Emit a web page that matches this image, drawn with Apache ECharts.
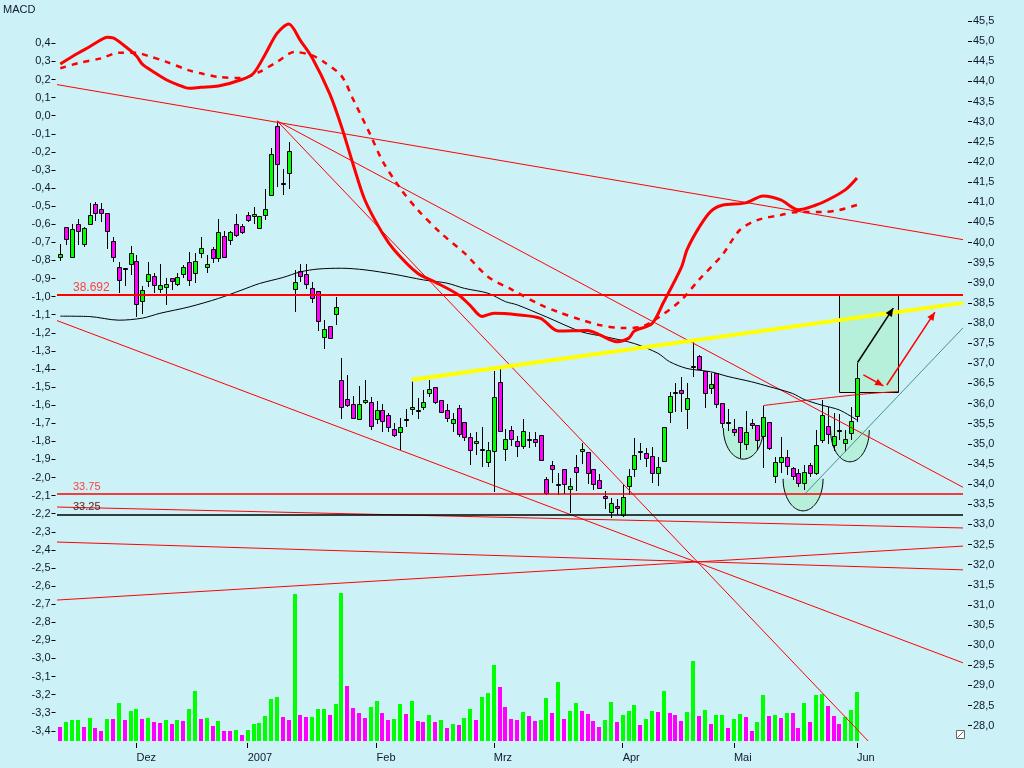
<!DOCTYPE html>
<html><head><meta charset="utf-8">
<script src="https://cdn.jsdelivr.net/npm/echarts@6/dist/echarts.min.js"></script>
<style>html,body{margin:0;padding:0;background:#ccf1f7}#c{width:1024px;height:768px}</style>
</head><body><div id="c"></div>
<script>
// ---------- DATA ----------
const monthIdx   = [13, 32, 54, 74, 96, 115, 136];
const monthNames = ['Dez', '2007', 'Feb', 'Mrz', 'Apr', 'Mai', 'Jun'];
const macdTicks  = [-3.4,-3.3,-3.2,-3.1,-3.0,-2.9,-2.8,-2.7,-2.6,-2.5,-2.4,-2.3,-2.2,-2.1,-2.0,-1.9,-1.8,-1.7,-1.6,-1.5,-1.4,-1.3,-1.2,-1.1,-1.0,-0.9,-0.8,-0.7,-0.6,-0.5,-0.4,-0.3,-0.2,-0.1,0.0,0.1,0.2,0.3,0.4];
const priceTicks = [28.0,28.5,29.0,29.5,30.0,30.5,31.0,31.5,32.0,32.5,33.0,33.5,34.0,34.5,35.0,35.5,36.0,36.5,37.0,37.5,38.0,38.5,39.0,39.5,40.0,40.5,41.0,41.5,42.0,42.5,43.0,43.5,44.0,44.5,45.0,45.5];

const openP  = [39.63,40.39,39.65,40.46,39.95,40.45,40.95,40.83,40.72,40.04,39.38,39.36,39.47,39.53,38.54,39.05,39.17,38.84,38.89,39.13,38.96,39.21,39.51,39.23,39.73,39.40,39.83,39.61,40.16,40.06,40.45,40.40,40.67,40.66,40.35,40.68,41.19,42.90,41.47,41.72,38.85,39.30,39.21,38.86,38.79,37.66,37.92,38.22,36.58,36.11,35.98,35.61,36.03,36.03,35.61,35.83,35.71,35.36,35.30,35.61,35.87,35.83,35.92,36.27,36.40,36.09,35.83,35.51,35.88,35.53,35.16,35.01,34.86,34.56,34.83,36.53,34.88,35.34,35.07,34.95,35.12,35.12,35.21,34.13,34.47,34.00,34.37,33.87,34.43,34.81,34.79,34.37,34.09,33.70,33.31,33.45,33.23,33.96,34.37,34.80,34.76,34.70,34.27,34.58,35.78,36.27,36.33,35.87,36.93,37.18,36.81,36.38,36.75,36.01,35.53,35.37,35.42,34.99,35.51,35.46,35.20,35.53,34.20,34.54,34.68,34.41,34.28,34.02,34.47,34.27,35.09,35.45,34.97,35.34,35.01,35.26,35.69];
const highP  = [39.96,40.39,40.46,40.59,40.39,40.97,41.00,40.97,40.72,40.14,39.51,39.36,39.91,39.68,38.92,39.51,39.23,39.46,39.12,39.13,39.23,39.44,39.77,39.73,40.13,39.68,39.89,40.59,40.28,40.29,40.71,40.47,40.76,40.89,40.66,41.32,42.35,43.02,41.82,42.49,39.32,39.47,39.47,39.01,38.79,38.07,37.92,38.64,37.14,36.71,36.19,36.44,36.58,36.17,36.07,35.99,35.76,35.51,35.65,35.87,36.56,36.13,36.34,36.58,36.40,36.09,35.99,35.76,35.96,35.53,35.26,35.29,35.42,35.05,36.81,36.85,35.36,35.43,35.19,35.61,35.30,35.30,35.21,34.18,34.58,34.27,34.37,34.14,34.72,35.03,34.79,34.37,34.25,33.82,33.65,33.62,33.98,34.37,35.15,35.01,34.89,34.91,34.68,35.41,36.29,36.50,36.66,36.50,37.53,37.20,36.81,36.75,36.75,36.01,35.86,35.62,35.42,35.81,35.62,35.46,35.95,35.53,34.68,35.18,34.85,34.43,34.37,34.47,34.53,35.34,36.09,35.92,35.76,35.74,35.34,35.92,37.00];
const lowP   = [39.55,39.94,39.62,39.94,39.88,40.45,40.54,40.51,39.84,39.51,38.74,38.92,39.19,38.16,38.22,38.89,38.74,38.74,38.45,38.82,38.92,39.12,38.92,38.99,39.62,39.25,39.50,39.51,39.64,39.94,40.14,40.22,40.51,40.46,40.35,40.57,41.19,41.38,41.19,41.32,38.28,39.02,38.85,38.49,37.81,37.36,37.62,37.96,35.61,35.92,35.63,35.61,35.98,35.34,35.48,35.30,35.30,35.18,34.85,35.42,35.71,35.61,35.84,36.17,35.99,35.80,35.55,35.30,35.18,35.08,34.47,34.72,34.43,34.42,33.81,35.30,34.58,34.95,34.67,34.86,34.89,34.93,34.57,33.73,34.03,33.73,33.75,33.27,33.83,34.49,34.00,33.85,33.87,33.37,33.15,33.23,33.19,33.73,34.18,34.61,34.43,34.03,33.96,34.54,35.52,35.80,35.80,35.36,36.66,36.85,35.88,36.24,35.88,35.39,35.32,35.19,34.64,34.85,35.38,34.85,34.41,34.85,34.02,34.27,34.22,34.10,33.93,33.85,34.17,34.22,35.01,34.99,34.82,35.09,34.80,35.09,35.55];
const closeP = [39.71,40.08,40.33,40.28,40.36,40.67,40.72,40.72,40.29,39.63,39.06,39.33,39.75,38.46,38.81,39.21,38.94,38.94,38.97,39.05,39.15,39.40,39.06,39.54,39.86,39.46,39.61,40.25,39.64,40.25,40.19,40.25,40.56,40.71,40.66,40.82,42.20,41.94,41.45,42.26,39.01,39.16,38.96,38.61,38.06,37.84,37.62,38.39,35.91,35.96,35.63,35.98,36.09,35.44,35.83,35.57,35.41,35.21,35.42,35.62,35.92,35.81,36.03,36.36,36.05,35.80,35.63,35.62,35.25,35.16,34.85,35.06,34.85,34.85,36.16,35.32,35.12,35.13,34.95,35.32,35.11,35.05,34.60,33.77,34.37,33.99,33.99,33.96,34.29,34.87,34.27,34.01,33.90,33.65,33.52,33.40,33.67,34.20,34.72,34.81,34.64,34.27,34.43,35.41,36.19,36.28,36.27,36.13,36.92,36.85,36.26,36.49,35.99,35.51,35.52,35.29,35.04,35.29,35.46,35.09,35.66,34.90,34.55,34.68,34.46,34.20,34.02,34.31,34.27,34.96,35.71,35.24,35.20,35.35,35.11,35.57,36.63];

const volume = [14,19,21,21,14,23,13,10,22,22,38,21,30,32,22,23,19,18,21,17,21,20,32,50,22,23,15,20,10,10,11,6,11,17,18,25,42,44,24,21,147,26,24,24,32,32,26,37,148,55,33,28,23,34,40,28,21,22,37,27,40,20,19,26,19,21,13,17,16,23,32,21,44,48,76,54,34,22,21,29,25,20,21,43,28,59,22,30,38,30,27,20,14,21,39,19,26,30,36,16,22,30,29,50,28,26,20,29,80,25,31,17,26,26,13,22,27,24,10,19,46,25,26,23,28,28,13,38,19,46,47,35,25,17,24,31,49];
const volumeUp = [0,1,1,1,0,1,0,0,1,0,1,0,1,1,0,1,0,0,1,0,1,0,1,1,0,1,0,1,0,0,1,0,1,1,1,1,1,1,0,0,1,0,0,1,1,1,0,1,1,0,0,0,0,1,1,0,0,1,1,0,1,0,0,1,0,1,0,1,0,1,1,0,1,1,1,0,0,0,0,1,0,0,1,1,0,1,0,1,1,0,0,0,0,1,1,0,1,1,1,0,1,1,0,1,0,0,0,1,1,0,1,0,1,1,0,1,1,0,0,1,1,0,1,0,1,0,0,1,0,1,1,0,0,0,1,1,1];

const maLine = [[0,38.17],[5,38.16],[10,38.07],[14,38.12],[17,38.24],[22,38.40],[27,38.61],[31,38.82],[34,38.98],[38,39.13],[41,39.27],[44,39.34],[48,39.36],[52,39.32],[57,39.21],[62,39.07],[66,38.99],[69,38.86],[73,38.74],[76,38.53],[78,38.45],[83,38.15],[89,37.78],[93,37.66],[98,37.49],[102,37.25],[104,37.04],[107,36.87],[111,36.79],[114,36.67],[118,36.54],[121,36.42],[125,36.25],[127,36.10],[130,35.96],[133,35.84],[136,35.59]];

const macdLine = [[0,0.286],[3,0.345],[5,0.381],[7,0.420],[8,0.433],[9,0.430],[11,0.385],[13,0.33],[14,0.285],[16,0.240],[18,0.200],[20,0.172],[22,0.151],[24,0.157],[27,0.164],[31,0.200],[33,0.235],[35,0.340],[37,0.455],[39,0.507],[41,0.415],[43,0.32],[46,0.12],[48,-0.06],[50,-0.27],[52,-0.466],[55,-0.65],[57,-0.742],[61,-0.871],[64,-0.92],[68,-0.991],[70,-1.05],[72,-1.11],[74,-1.092],[78,-1.10],[82,-1.12],[85,-1.19],[90,-1.187],[92,-1.21],[95,-1.249],[97,-1.231],[98,-1.19],[101,-1.15],[103,-1.03],[106,-0.84],[107,-0.74],[109,-0.62],[111,-0.53],[113,-0.495],[117,-0.482],[120,-0.444],[123,-0.466],[126,-0.52],[129,-0.494],[131,-0.466],[134,-0.41],[136,-0.344]];
const signalLine = [[0,0.262],[3,0.29],[7,0.317],[10,0.348],[13,0.348],[15,0.33],[18,0.299],[22,0.25],[24,0.234],[27,0.214],[31,0.208],[34,0.242],[37,0.297],[40,0.352],[43,0.333],[45,0.297],[48,0.22],[50,0.09],[53,-0.11],[55,-0.25],[58,-0.40],[61,-0.52],[65,-0.65],[69,-0.76],[73,-0.89],[77,-0.96],[82,-1.046],[85,-1.085],[89,-1.129],[92,-1.157],[96,-1.174],[99,-1.168],[102,-1.118],[106,-1.019],[109,-0.908],[113,-0.77],[116,-0.632],[119,-0.577],[123,-0.549],[126,-0.532],[130,-0.532],[133,-0.521],[136,-0.494]];

// trend lines: [bar1, price1, bar2, price2]
const redTrends = [
  [-0.56, 43.92, 154.1, 40.07],
  [37, 43.02, 137.9, 27.62],
  [37, 43.02, 154.1, 33.92],
  [-0.56, 38.06, 154.1, 29.56],
  [-0.56, 31.12, 154.1, 32.46],
  [-0.56, 32.56, 154.1, 31.87],
  [-0.56, 33.43, 154.1, 32.91]
];
const yellowTrend = [[60.0, 36.59], [154.1, 38.50]];
const tealTrend = [[127.2, 33.77], [154.1, 37.88]];
const redArc = [[120.0, 35.95], [135.3, 36.21], [143.0, 36.30]];
const levels = [38.692, 33.75, 33.25];
// cups: [centre bar, rim price, half width (bars), depth (price)]
const cups = [[116.6, 35.39, 3.41, 0.77], [126.8, 34.13, 3.41, 0.795], [134.8, 35.34, 3.3, 0.787]];
// target box: [bar1, bar2, top price, bottom price]
const targetBox = [[133.0, 143.0, 38.692, 36.29]];
// arrows: [bar1, price1, bar2, price2, colourIndex]
const arrows = [[136.1, 37.02, 142.2, 38.37, 0], [137.1, 36.71, 140.5, 36.44, 1], [141.1, 36.46, 149.3, 38.27, 1]];

// ---------- CHART ----------
const FONT = 'Liberation Sans';
const TXT = '#101830';
const X_MIN = -0.56, X_MAX = 154.1;
const GL = 57, GR = 61;
const hiddenX = (g) => ({type:'value', gridIndex:g, min:X_MIN, max:X_MAX, show:false,
  axisLine:{show:false, onZero:false}, axisTick:{show:false}, axisLabel:{show:false}, splitLine:{show:false}});
const hiddenY = (g, mn, mx) => ({type:'value', gridIndex:g, min:mn, max:mx, show:false,
  axisLine:{show:false, onZero:false}, axisTick:{show:false}, axisLabel:{show:false}, splitLine:{show:false}});
const fmt = v => v.toFixed(1).replace('.', ',');

const candleData = openP.map((o, i) => [i, o, closeP[i], lowP[i], highP[i]]);
const volData = volume.map((v, i) => [i, v, volumeUp[i]]);

const option = {
  animation: false,
  backgroundColor: '#ccf1f7',
  title: {text:'MACD', left:3, top:4, padding:0, textStyle:{fontSize:11, fontWeight:'normal', color:TXT, fontFamily:FONT}},
  grid: [
    {left:GL, right:GR, top:0.87, height:744.93},   // price data
    {left:GL, right:GR, top:43.3, height:687.5},    // MACD (labels -3.4 .. 0.4)
    {left:GL, right:GR, top:541, height:200},       // volume + time axis
    {left:GL, right:GR, top:21, height:704.7}       // price labels 28.0 .. 45.5
  ],
  xAxis: [
    hiddenX(0), hiddenX(1),
    {type:'value', gridIndex:2, min:X_MIN, max:X_MAX, offset:2,
     splitLine:{show:false}, axisLine:{show:false, onZero:false},
     axisTick:{show:true, customValues:monthIdx, length:5, lineStyle:{color:'#000'}},
     axisLabel:{customValues:monthIdx, formatter:v => monthNames[monthIdx.indexOf(Math.round(v))],
       align:'left', margin:9, fontSize:11, color:TXT, fontFamily:FONT}},
    hiddenX(3)
  ],
  yAxis: [
    hiddenY(0, 27.5, 46),
    {type:'value', gridIndex:1, position:'left', min:-3.4, max:0.4, offset:1.5,
     splitLine:{show:false}, axisLine:{show:false, onZero:false},
     axisTick:{show:true, customValues:macdTicks, length:4, lineStyle:{color:'#000'}},
     axisLabel:{customValues:macdTicks, margin:5, fontSize:11, color:TXT, fontFamily:FONT,
       formatter:v => fmt(Math.abs(v) < 1e-9 ? 0 : v)}},
    hiddenY(2, 0, 200),
    {type:'value', gridIndex:3, position:'right', min:28, max:45.5, offset:5,
     splitLine:{show:false}, axisLine:{show:false, onZero:false},
     axisTick:{show:true, customValues:priceTicks, length:4, lineStyle:{color:'#000'}},
     axisLabel:{customValues:priceTicks, margin:5, fontSize:11, color:TXT, fontFamily:FONT, formatter:v => fmt(v)}}
  ],
  series: [
    {type:'custom', name:'box', xAxisIndex:0, yAxisIndex:0, z:1, clip:true, data:targetBox,
     renderItem:(p, api) => {
       const a = api.coord([api.value(0), api.value(2)]), b = api.coord([api.value(1), api.value(3)]);
       return {type:'rect', shape:{x:Math.round(a[0])+0.5, y:Math.round(a[1])+0.5, width:Math.round(b[0]-a[0]), height:Math.round(b[1]-a[1])},
         style:{fill:'#b6f0da', stroke:'#000', lineWidth:1}};
     }},
    {type:'custom', name:'cups', xAxisIndex:0, yAxisIndex:0, z:1, clip:true, data:cups,
     renderItem:(p, api) => {
       const c = api.coord([api.value(0), api.value(1)]);
       const s = api.size([api.value(2), api.value(3)]);
       const pts = [];
       for (let k = 0; k <= 48; k++) { const t = Math.PI * k / 48; pts.push([c[0] - s[0]*Math.cos(t), c[1] + s[1]*Math.sin(t)]); }
       return {type:'group', children:[
         {type:'polygon', shape:{points:pts}, style:{fill:'#b6f0da'}},
         {type:'polyline', shape:{points:pts}, style:{stroke:'#000', lineWidth:1, fill:null}}
       ]};
     }},
    {type:'custom', name:'volume', xAxisIndex:2, yAxisIndex:2, z:2, clip:true, data:volData,
     renderItem:(p, api) => {
       const a = api.coord([api.value(0), 0]), b = api.coord([api.value(0), api.value(1)]);
       return {type:'rect', shape:{x:Math.round(a[0])-2, y:b[1], width:4, height:a[1]-b[1]},
         style:{fill: api.value(2) ? '#00ff00' : '#ff00ff'}};
     }},
    {type:'custom', name:'price', xAxisIndex:0, yAxisIndex:0, z:3, clip:true, data:candleData,
     renderItem:(p, api) => {
       const i = api.value(0), o = api.value(1), c = api.value(2), l = api.value(3), h = api.value(4);
       const po = api.coord([i, o]), pc = api.coord([i, c]), pl = api.coord([i, l]), ph = api.coord([i, h]);
       const x = Math.round(po[0]);
       const top = Math.round(Math.min(po[1], pc[1])), bot = Math.round(Math.max(po[1], pc[1]));
       return {type:'group', children:[
         {type:'line', shape:{x1:x+0.5, y1:Math.round(ph[1]), x2:x+0.5, y2:Math.round(pl[1])}, style:{stroke:'#000', lineWidth:1}},
         {type:'rect', shape:{x:x-1.5, y:top+0.5, width:4, height:Math.max(bot-top, 1)},
          style:{fill: c >= o ? '#00ff00' : '#ff00ff', stroke:'#000', lineWidth:1}}
       ]};
     }},
    {type:'custom', name:'trends', xAxisIndex:0, yAxisIndex:0, z:4, clip:true, data:redTrends,
     renderItem:(p, api) => {
       const a = api.coord([api.value(0), api.value(1)]), b = api.coord([api.value(2), api.value(3)]);
       return {type:'line', shape:{x1:a[0], y1:a[1], x2:b[0], y2:b[1]}, style:{stroke:'#ff0000', lineWidth:1}};
     }},
    {type:'line', name:'MA', xAxisIndex:0, yAxisIndex:0, z:4, data:maLine, showSymbol:false, smooth:0.3,
     lineStyle:{color:'#000', width:1},
     markLine:{silent:true, symbol:['none','none'], animation:false,
       data:[
         {name:String(levels[0]), yAxis:levels[0], lineStyle:{color:'#ff0000', width:2, type:'solid'},
          label:{show:true, position:'insideStartTop', formatter:'{b}', color:'#ff4040', fontSize:12, fontFamily:FONT, padding:[0,0,0,14], distance:2}},
         {name:String(levels[1]), yAxis:levels[1], lineStyle:{color:'#ff0000', width:1.5, type:'solid'},
          label:{show:true, position:'insideStartTop', formatter:'{b}', color:'#ff4040', fontSize:11, fontFamily:FONT, padding:[0,0,0,14], distance:2}},
         {name:String(levels[2]), yAxis:levels[2], lineStyle:{color:'#000', width:1.5, type:'solid'},
          label:{show:true, position:'insideStartTop', formatter:'{b}', color:'#602020', fontSize:11, fontFamily:FONT, padding:[0,0,0,14], distance:2}}
       ]}},
    {type:'line', name:'arc', xAxisIndex:0, yAxisIndex:0, z:4, data:redArc, showSymbol:false, smooth:0.4,
     lineStyle:{color:'#ff0000', width:1}},
    {type:'line', name:'teal', xAxisIndex:0, yAxisIndex:0, z:4, data:tealTrend, showSymbol:false,
     lineStyle:{color:'#4d8f8f', width:1}},
    {type:'line', name:'yellow', xAxisIndex:0, yAxisIndex:0, z:5, data:yellowTrend, showSymbol:false,
     lineStyle:{color:'#ffff00', width:4}},
    {type:'custom', name:'arrows', xAxisIndex:0, yAxisIndex:0, z:7, clip:true, data:arrows,
     renderItem:(p, api) => {
       const a = api.coord([api.value(0), api.value(1)]), b = api.coord([api.value(2), api.value(3)]);
       const col = api.value(4) ? '#ff0000' : '#000';
       const ang = Math.atan2(b[1]-a[1], b[0]-a[0]), L = 9, W = 0.42;
       const h1 = [b[0] - L*Math.cos(ang-W), b[1] - L*Math.sin(ang-W)];
       const h2 = [b[0] - L*Math.cos(ang+W), b[1] - L*Math.sin(ang+W)];
       return {type:'group', children:[
         {type:'line', shape:{x1:a[0], y1:a[1], x2:b[0], y2:b[1]}, style:{stroke:col, lineWidth:1.5}},
         {type:'polygon', shape:{points:[b, h1, h2]}, style:{fill:col}}
       ]};
     }},
    {type:'line', name:'MACD', xAxisIndex:1, yAxisIndex:1, z:6, clip:false, data:macdLine, showSymbol:false, smooth:0.3,
     lineStyle:{color:'#ff0000', width:3}},
    {type:'line', name:'Signal', xAxisIndex:1, yAxisIndex:1, z:6, clip:false, data:signalLine, showSymbol:false, smooth:0.3,
     lineStyle:{color:'#ff0000', width:2.5, type:[6,6]}}
  ],
  graphic: [
    {type:'group', right:58, bottom:28, children:[
      {type:'rect', shape:{x:0, y:0, width:8, height:8}, style:{fill:'#fff', stroke:'#666', lineWidth:1}},
      {type:'line', shape:{x1:1, y1:7, x2:7, y2:1}, style:{stroke:'#666', lineWidth:1}}
    ]}
  ]
};
const chart = echarts.init(document.getElementById('c'));
chart.setOption(option);
</script>
</body></html>
